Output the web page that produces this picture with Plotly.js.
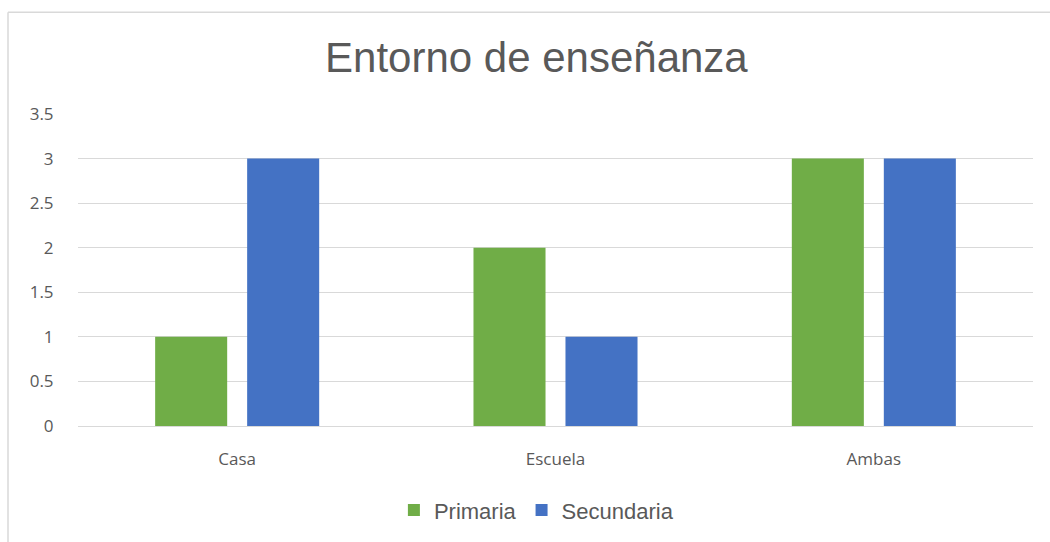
<!DOCTYPE html>
<html>
<head>
<meta charset="utf-8">
<script src="https://cdn.plot.ly/plotly-3.0.1.min.js"></script>
<style>
  html, body { margin: 0; padding: 0; background: #ffffff; }
  #chart { width: 1050px; height: 542px; }
</style>
</head>
<body>
<div id="chart"></div>
<script>
const categories = ["Casa", "Escuela", "Ambas"];
const primaria = [1, 2, 3];
const secundaria = [3, 1, 3];
const yTickVals = [0, 0.5, 1, 1.5, 2, 2.5, 3, 3.5];
const yTickText = ["0", "0.5", "1", "1.5", "2", "2.5", "3", "3.5"];

const traces = [
  { type: "bar", name: "Primaria", x: categories, y: primaria,
    marker: { color: "#70ad47" }, hoverinfo: "none" },
  { type: "bar", name: "Secundaria", x: categories, y: secundaria,
    marker: { color: "#4472c4" }, hoverinfo: "none" }
];

const layout = {
  width: 1050, height: 542,
  margin: { l: 78, r: 17, t: 114, b: 115 },
  paper_bgcolor: "#ffffff", plot_bgcolor: "#ffffff",
  barmode: "group", bargap: 0.422, bargroupgap: 0.217,
  title: {
    text: "Entorno de enseñanza",
    font: { family: "Liberation Sans, Arial, sans-serif", size: 42, color: "#595959" },
    x: 0.48, xref: "paper", xanchor: "center",
    y: 1 - 57 / 542, yref: "container", yanchor: "middle"
  },
  xaxis: {
    type: "category",
    showgrid: false, zeroline: false, showline: false,
    ticks: "outside", ticklen: 18, tickcolor: "rgba(0,0,0,0)",
    tickfont: { family: "Open Sans, sans-serif", size: 17, color: "#595959" },
    fixedrange: true
  },
  yaxis: {
    range: [0, 3.5],
    tickvals: yTickVals, ticktext: yTickText,
    showgrid: true, gridcolor: "#d9d9d9", gridwidth: 1,
    zeroline: true, zerolinecolor: "#d9d9d9", zerolinewidth: 1,
    showline: false,
    ticks: "outside", ticklen: 20, tickcolor: "rgba(0,0,0,0)",
    tickfont: { family: "Open Sans, sans-serif", size: 17, color: "#595959" },
    fixedrange: true
  },
  showlegend: true,
  legend: {
    orientation: "h",
    x: 0.48, xanchor: "center",
    y: -0.266, yanchor: "middle",
    font: { family: "Liberation Sans, Arial, sans-serif", size: 22, color: "#595959" },
    itemwidth: 30, traceorder: "normal"
  },
  shapes: [
    { type: "line", xref: "paper", yref: "paper",
      x0: (8 - 78) / 955, x1: 1.1, y0: (427.5 - 11) / 314, y1: (427.5 - 11) / 314,
      line: { color: "#d9d9d9", width: 1.5 } },
    { type: "line", xref: "paper", yref: "paper",
      x0: (8 - 78) / 955, x1: (8 - 78) / 955, y0: (427.5 - 11) / 314, y1: -0.5,
      line: { color: "#d9d9d9", width: 1.5 } }
  ]
};

Plotly.newPlot("chart", traces, layout, { staticPlot: true, displayModeBar: false });
</script>
</body>
</html>
